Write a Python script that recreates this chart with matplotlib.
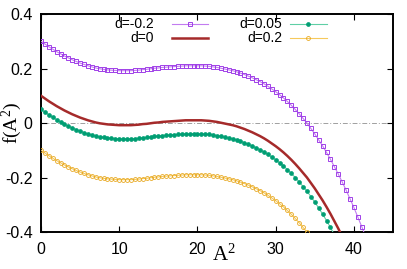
import numpy as np
import matplotlib
matplotlib.use("Agg")
import matplotlib.pyplot as plt

plt.rcParams["mathtext.fontset"] = "custom"
plt.rcParams["mathtext.rm"] = "Liberation Serif"
plt.rcParams["mathtext.it"] = "Liberation Serif:italic"

step = 0.5
f_dm02 = [0.300, 0.290, 0.280, 0.271, 0.262, 0.254, 0.246, 0.239, 0.232, 0.226,
          0.220, 0.215, 0.210, 0.206, 0.202, 0.199, 0.197, 0.195, 0.194, 0.193,
          0.192, 0.192, 0.192, 0.192, 0.193, 0.194, 0.196, 0.197, 0.199, 0.201,
          0.202, 0.204, 0.205, 0.206, 0.207, 0.208, 0.209, 0.210, 0.210, 0.210,
          0.210, 0.210, 0.209, 0.208, 0.206, 0.204, 0.201, 0.198, 0.195, 0.192,
          0.188, 0.183, 0.178, 0.172, 0.166, 0.159, 0.152, 0.144, 0.135, 0.125,
          0.115, 0.104, 0.092, 0.079, 0.065, 0.050, 0.034, 0.017, 0.000, -0.020,
          -0.040, -0.062, -0.084, -0.108, -0.133, -0.160, -0.187, -0.216, -0.246, -0.278,
          -0.310, -0.345, -0.380, -0.417]
f_d0 = [0.100, 0.090, 0.080, 0.071, 0.062, 0.054, 0.046, 0.039, 0.032, 0.026,
        0.020, 0.015, 0.010, 0.006, 0.002, -0.001, -0.003, -0.005, -0.006, -0.007,
        -0.008, -0.008, -0.008, -0.008, -0.007, -0.006, -0.004, -0.003, -0.001, 0.001,
        0.002, 0.004, 0.005, 0.006, 0.007, 0.008, 0.009, 0.010, 0.010, 0.010,
        0.010, 0.010, 0.009, 0.008, 0.006, 0.004, 0.001, -0.002, -0.005, -0.008,
        -0.012, -0.017, -0.022, -0.028, -0.034, -0.041, -0.048, -0.056, -0.065, -0.075,
        -0.085, -0.096, -0.108, -0.121, -0.135, -0.150, -0.166, -0.183, -0.200, -0.220,
        -0.240, -0.262, -0.284, -0.308, -0.333, -0.360, -0.387, -0.416]
f_d005 = [0.050, 0.040, 0.030, 0.021, 0.012, 0.004, -0.004, -0.011, -0.018, -0.024,
          -0.030, -0.035, -0.040, -0.044, -0.048, -0.051, -0.053, -0.055, -0.056, -0.057,
          -0.058, -0.058, -0.058, -0.058, -0.057, -0.056, -0.054, -0.053, -0.051, -0.049,
          -0.048, -0.046, -0.045, -0.044, -0.043, -0.042, -0.041, -0.040, -0.040, -0.040,
          -0.040, -0.040, -0.041, -0.042, -0.044, -0.046, -0.049, -0.052, -0.055, -0.058,
          -0.062, -0.067, -0.072, -0.078, -0.084, -0.091, -0.098, -0.106, -0.115, -0.125,
          -0.135, -0.146, -0.158, -0.171, -0.185, -0.200, -0.216, -0.233, -0.250, -0.270,
          -0.290, -0.312, -0.334, -0.358, -0.383, -0.410]
f_d02 = [-0.100, -0.110, -0.120, -0.129, -0.138, -0.146, -0.154, -0.161, -0.168, -0.174,
         -0.180, -0.185, -0.190, -0.194, -0.198, -0.201, -0.203, -0.205, -0.206, -0.207,
         -0.208, -0.208, -0.208, -0.208, -0.207, -0.206, -0.204, -0.203, -0.201, -0.199,
         -0.198, -0.196, -0.195, -0.194, -0.193, -0.192, -0.191, -0.190, -0.190, -0.190,
         -0.190, -0.190, -0.191, -0.192, -0.194, -0.196, -0.199, -0.202, -0.205, -0.208,
         -0.212, -0.217, -0.222, -0.228, -0.234, -0.241, -0.248, -0.256, -0.265, -0.275,
         -0.285, -0.296, -0.308, -0.321, -0.335, -0.350, -0.366, -0.383, -0.400, -0.420]

labels = ["d=-0.2", "d=0", "d=0.05", "d=0.2"]
xticks = [0, 10, 20, 30, 40]
yticks = [-0.4, -0.2, 0, 0.2, 0.4]


def xs(vals):
    return step * np.arange(len(vals))


fig = plt.figure(figsize=(4.07, 2.69), dpi=100)
ax = fig.add_axes([0.1007, 0.1375, 0.8649, 0.8104])

ax.axhline(0, color="#a0a0a0", lw=0.7, dashes=(5, 2, 1, 2), zorder=1)

sty = {
    "d=-0.2": dict(color="#c27cf0", lw=0.8, marker="s", ms=3.4, mfc="none",
                   mec="#a040e8", mew=0.7),
    "d=0": dict(color="#a52a2a", lw=1.8),
    "d=0.05": dict(color="#5fcfa5", lw=0.8, marker="o", ms=2.8, mfc="#009e73",
                   mec="#009e73", mew=0.5),
    "d=0.2": dict(color="#f6c95c", lw=0.8, marker="o", ms=2.8, mfc="none",
                  mec="#e8a820", mew=0.6),
}
series = {"d=-0.2": f_dm02, "d=0": f_d0, "d=0.05": f_d005, "d=0.2": f_d02}
for lab in labels:
    ax.plot(xs(series[lab]), series[lab], zorder=3, **sty[lab])

ax.set_xlim(0, 45)
ax.set_ylim(-0.4, 0.4)
ax.set_xticks(xticks)
ax.set_yticks(yticks)
ax.set_xticklabels([str(t) for t in xticks], family="Liberation Sans", fontsize=11.5)
ax.set_yticklabels(["-0.4", "-0.2", "0", "0.2", "0.4"], family="Liberation Sans", fontsize=11.5)
ax.tick_params(direction="in", length=4, width=0.8, top=True, right=True)
ax.tick_params(axis="x", pad=7)
ax.tick_params(axis="y", pad=6)
for s in ax.spines.values():
    s.set_linewidth(1.4)

ax.set_xlabel("A$^2$", fontsize=15, family="Liberation Serif", va="center")
ax.set_ylabel("f(A$^2$)", fontsize=14, family="Liberation Serif", va="center")
ax.xaxis.set_label_coords(0.52, -0.105)
ax.yaxis.set_label_coords(-0.083, 0.5)

# gnuplot-style key: text right-aligned, sample line to its right
key = [("d=-0.2", 0.321, 0.372, 0.474, 0.954),
       ("d=0", 0.321, 0.372, 0.474, 0.890),
       ("d=0.05", 0.685, 0.707, 0.8125, 0.954),
       ("d=0.2", 0.685, 0.707, 0.8125, 0.890)]
for lab, tx, x0, x1, y in key:
    ax.text(tx, y, lab, transform=ax.transAxes, ha="right", va="center",
            family="Liberation Sans", fontsize=10)
    st = sty[lab]
    ax.plot([x0, x1], [y, y], transform=ax.transAxes, clip_on=False,
            color=st["color"], lw=st["lw"])
    if "marker" in st:
        ax.plot([(x0 + x1) / 2], [y], transform=ax.transAxes, clip_on=False,
                ls="none", marker=st["marker"], ms=st["ms"], mfc=st["mfc"],
                mec=st["mec"], mew=st["mew"])

fig.savefig("out.png", dpi=100)
